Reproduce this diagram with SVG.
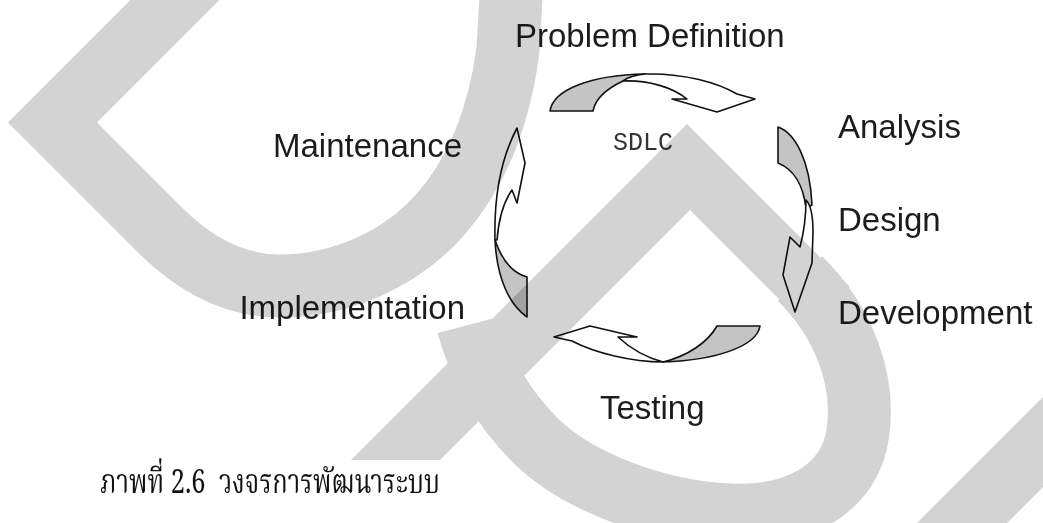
<svg xmlns="http://www.w3.org/2000/svg" width="1043" height="523" viewBox="0 0 1043 523">
<style>
.lbl{font-family:"Liberation Sans",Arial,sans-serif;font-size:33px;fill:#1c1c1c}
.mono{font-family:"Liberation Mono","Courier New",monospace;font-size:25px;fill:#333}
.cap{font-family:"Noto Serif Thai","Noto Sans Thai","Liberation Serif",serif;font-size:33px;fill:#111}
.ar{stroke:#111;stroke-width:1.6;stroke-linejoin:round}
.back{fill:#c4c4c4}
.front{fill:#fff}
.wm{fill:none;stroke:#d3d3d3;stroke-width:63;stroke-linejoin:miter;stroke-miterlimit:10}
.wmf{fill:#d3d3d3}
</style>
<rect width="1043" height="523" fill="#fff"/>
<g id="connectors">
  <g id="arrow-top">
    <path class="ar back" d="M550,111 C553,90 590,75 645,74 C632,76 626,79 623,81 C604,90 595,100 593,111 Z"/>
    <path class="ar front" d="M623,81 C628,77 635,75 645,74 C685,73 718,83 737,94 L755,99 L717,112 L672,99 L687,99 C672,87 648,80 623,81 Z"/>
  </g>
  <g id="arrow-right">
    <path class="ar back" d="M778,127 C795,133 810,160 812,205 L806,208 C803,185 795,170 778,163 Z"/>
    <path class="ar front" d="M806,200 C811,205 813,218 813,232 L812,263 L795,312 L783,275 L790,237 L800,247 C804,232 806,215 806,200 Z"/>
  </g>
  <g id="arrow-bottom">
    <path class="ar back" d="M717,326 L760,326 C757,345 720,360 663,362 C688,356 708,342 717,326 Z"/>
    <path class="ar front" d="M663,362 C632,362 595,353 572,341 L554,337 L590,326 L637,337 L618,337 C632,350 648,358 663,362 Z"/>
  </g>
  <g id="arrow-left">
    <path class="ar back" d="M527,317 C510,305 497,280 495,240 C500,255 510,272 527,277 Z"/>
    <path class="ar front" d="M495,240 C494,200 500,160 517,128 L525,163 L517,203 L512,190 C505,200 499,215 497,240 Z"/>
  </g>
</g>
<g id="node-problem"><text class="lbl" x="515" y="47">Problem Definition</text></g>
<g id="node-analysis"><text class="lbl" x="838" y="138">Analysis</text></g>
<g id="node-design"><text class="lbl" x="838" y="231">Design</text></g>
<g id="node-development"><text class="lbl" x="838" y="324">Development</text></g>
<g id="node-testing"><text class="lbl" x="600" y="419">Testing</text></g>
<g id="node-implementation"><text class="lbl" x="465" y="319" text-anchor="end">Implementation</text></g>
<g id="node-maintenance"><text class="lbl" x="462" y="157" text-anchor="end">Maintenance</text></g>
<g id="node-sdlc"><text class="mono" x="613" y="150">SDLC</text></g>
<g id="caption"><text class="cap" x="100" y="493" xml:space="preserve" textLength="340" lengthAdjust="spacingAndGlyphs">ภาพที่ 2.6  วงจรการพัฒนาระบบ</text></g>
<g id="watermark" style="mix-blend-mode:multiply">
  <path class="wm" d="M200,-25 L52.5,122.5 L160,230 C200,270 240,286 280,286 C340,286 400,260 440,215 C480,170 500,110 508,50 L512,-20"/>
  <polygon class="wmf" points="351,460 687,124 850,287 806,326 690,210 440,460"/>
  <path class="wm" stroke-linejoin="round" d="M800,278.5 C845,323.5 865,380 858,432 C851,490 795,518 730,515 C655,512 575,480 535,440 C505,410 480,370 468,325"/>
  <polygon class="wmf" points="917,523 1043,397 1043,487 1007,523"/>
</g>
</svg>
